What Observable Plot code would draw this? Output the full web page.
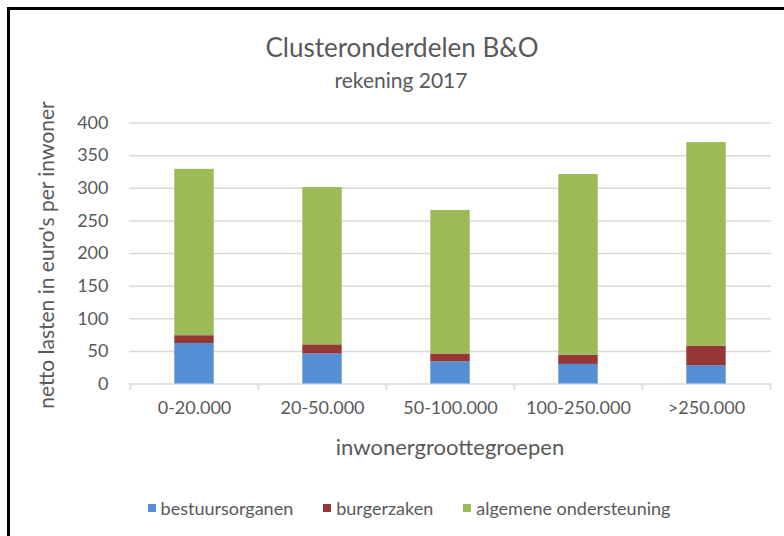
<!DOCTYPE html>
<html>
<head>
<meta charset="utf-8">
<script src="https://cdn.jsdelivr.net/npm/d3@7"></script>
<script src="https://cdn.jsdelivr.net/npm/@observablehq/plot@0.6"></script>
<style>
  html, body { margin: 0; padding: 0; background: #fff; }
  body { width: 784px; height: 536px; position: relative; overflow: hidden; font-family: Lato, "Open Sans", sans-serif; color: #595959; }
  #frame { position: absolute; left: 7px; top: 7px; width: 800px; height: 560px; border-top: 3px solid #000; border-left: 3px solid #000; box-sizing: border-box; }
  #chart { position: absolute; left: 0; top: 0; }
  .t { position: absolute; white-space: nowrap; transform: translate(-50%, -50%); }
  #title { left: 402px; top: 47px; font-size: 26px; }
  #subtitle { left: 401px; top: 79px; font-size: 21px; }
  #xlabel { left: 450px; top: 446px; font-size: 22px; }
  #ylabel { left: 45px; top: 255px; font-size: 21px; transform: translate(-50%, -50%) rotate(-90deg); }
  #legend { position: absolute; top: 508px; left: 17px; width: 784px; display: flex; justify-content: center; transform: translateY(-50%); font-size: 18px; gap: 30px; box-sizing: border-box; }
  .item { display: flex; align-items: center; }
  .sw { width: 8px; height: 8px; margin-right: 5px; }
</style>
</head>
<body>
<div id="frame"></div>
<div id="chart"></div>
<div class="t" id="title">Clusteronderdelen B&amp;O</div>
<div class="t" id="subtitle">rekening 2017</div>
<div class="t" id="xlabel">inwonergroottegroepen</div>
<div class="t" id="ylabel">netto lasten in euro's per inwoner</div>
<div id="legend"></div>
<script>
const categories = ["0-20.000", "20-50.000", "50-100.000", "100-250.000", ">250.000"];
const seriesNames = ["bestuursorganen", "burgerzaken", "algemene ondersteuning"];
const bestuursorganen = [62, 46, 34, 30, 28];
const burgerzaken = [12, 14, 12, 14, 30];
const algemeneOndersteuning = [255, 241, 220, 277, 312];
const seriesColors = ["#558ED5", "#953735", "#9BBB59"];
const yTicks = [0, 50, 100, 150, 200, 250, 300, 350, 400];

const seriesValues = [bestuursorganen, burgerzaken, algemeneOndersteuning];
const data = categories.flatMap((c, i) =>
  seriesNames.map((s, j) => ({category: c, series: s, value: seriesValues[j][i]}))
);

const W = 784, H = 536;
const mL = 129, mR = 13, mT = 122.5, mB = 152.5;
const step = (W - mL - mR) / categories.length;
const inset = step * 0.345;

const plot = Plot.plot({
  width: W,
  height: H,
  marginLeft: mL,
  marginRight: mR,
  marginTop: mT,
  marginBottom: mB,
  style: {fontFamily: "Lato, 'Open Sans', sans-serif", fontSize: "18px", color: "#595959", background: "transparent"},
  x: {domain: categories, padding: 0, label: null},
  y: {domain: [0, 400], label: null},
  color: {domain: seriesNames, range: seriesColors},
  marks: [
    Plot.ruleY(yTicks, {stroke: "#d9d9d9", strokeWidth: 1.5}),
    Plot.ruleX(categories, {x: d => d, dx: -step / 2, y1: 0, y2: -10, stroke: "#d9d9d9", strokeWidth: 1.5}),
    Plot.ruleX(categories.slice(-1), {x: d => d, dx: step / 2, y1: 0, y2: -10, stroke: "#d9d9d9", strokeWidth: 1.5}),
    Plot.barY(data, {x: "category", y: "value", fill: "series", insetLeft: inset, insetRight: inset}),
    Plot.axisY({ticks: yTicks, tickSize: 0, tickPadding: 21, label: null, fontSize: 18}),
    Plot.axisX({tickSize: 0, tickPadding: 17, label: null, fontSize: 18})
  ]
});
document.getElementById("chart").appendChild(plot);

const legend = document.getElementById("legend");
seriesNames.forEach((s, i) => {
  const item = document.createElement("div");
  item.className = "item";
  const sw = document.createElement("span");
  sw.className = "sw";
  sw.style.background = seriesColors[i];
  const tx = document.createElement("span");
  tx.textContent = s;
  item.appendChild(sw);
  item.appendChild(tx);
  legend.appendChild(item);
});
</script>
</body>
</html>
